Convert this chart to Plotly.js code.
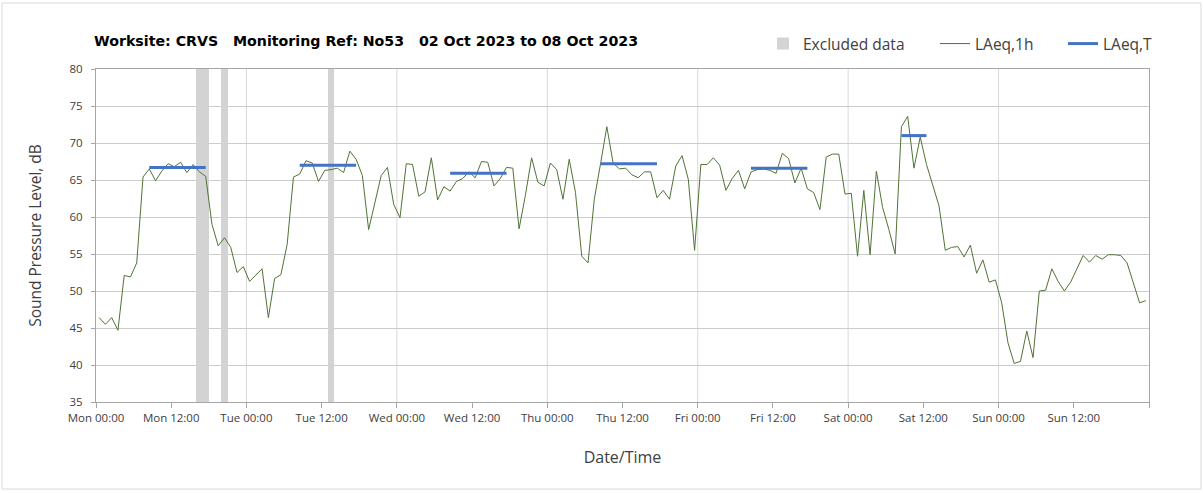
<!DOCTYPE html>
<html>
<head>
<meta charset="utf-8">
<script src="https://cdn.plot.ly/plotly-3.0.1.min.js"></script>
<style>
  html, body { margin: 0; padding: 0; background: #ffffff; }
  #chart { width: 1203px; height: 493px; }
</style>
</head>
<body>
<div id="chart"></div>
<script>
// ---- Data (hours since Mon 02 Oct 2023 00:00) ----
const laeq1h = [
  46.4, 45.5, 46.4, 44.7, 52.1, 51.9, 53.8, 65.4, 66.5, 64.9, 66.2, 67.2,
  66.8, 67.4, 66.0, 67.1, 66.1, 65.5, 59.0, 56.1, 57.2, 55.9, 52.5, 53.3,
  51.3, 52.1, 53.0, 46.4, 51.7, 52.2, 56.3, 65.4, 65.8, 67.6, 67.3, 64.8,
  66.3, 66.4, 66.6, 66.0, 68.9, 67.8, 65.6, 58.3, 61.8, 65.6, 66.7, 61.7,
  59.9, 67.2, 67.1, 62.8, 63.4, 68.0, 62.3, 64.1, 63.5, 64.8, 65.2, 66.1,
  65.3, 67.5, 67.4, 64.2, 65.2, 66.7, 66.6, 58.4, 62.9, 68.0, 64.7, 64.2,
  67.3, 66.4, 62.4, 67.8, 63.3, 54.7, 53.8, 62.4, 67.2, 72.2, 67.3, 66.5,
  66.6, 65.7, 65.3, 66.1, 66.1, 62.6, 63.6, 62.4, 66.9, 68.3, 65.1, 55.5,
  67.1, 67.1, 68.0, 67.0, 63.6, 65.2, 66.3, 63.8, 66.1, 66.4, 66.5, 66.3,
  65.9, 68.6, 67.9, 64.6, 66.6, 63.8, 63.3, 61.0, 68.1, 68.5, 68.5, 63.1,
  63.2, 54.7, 63.6, 54.9, 66.2, 61.3, 58.3, 55.0, 72.2, 73.6, 66.6, 70.8,
  67.1, 64.2, 61.5, 55.5, 55.9, 56.0, 54.6, 56.2, 52.4, 54.2, 51.2, 51.5,
  48.4, 43.0, 40.2, 40.5, 44.6, 41.0, 50.0, 50.1, 53.0, 51.3, 50.0, 51.2,
  53.1, 54.8, 53.9, 54.8, 54.3, 54.9, 54.9, 54.8, 53.8, 51.1, 48.4, 48.7
];

// LAeq,T periods (start hour, end hour, level dB)
const periodStart = [8, 32, 56, 80, 104, 128];
const periodEnd   = [18, 42, 66, 90, 114, 133];
const periodLevel = [66.7, 67.0, 65.9, 67.2, 66.6, 71.0];

// Excluded data hours
const excludedHours = [16, 17, 20, 37];

// Tick labels every 12 hours
const tickLabels = ['Mon 00:00', 'Mon 12:00', 'Tue 00:00', 'Tue 12:00', 'Wed 00:00', 'Wed 12:00',
  'Thu 00:00', 'Thu 12:00', 'Fri 00:00', 'Fri 12:00', 'Sat 00:00', 'Sat 12:00',
  'Sun 00:00', 'Sun 12:00', ''];
const dayBoundaries = [24, 48, 72, 96, 120, 144];

// ---- Build traces ----
const yMin = 35, yMax = 80;
const font = 'Open Sans, Lato, sans-serif';

const traceExcluded = {
  type: 'bar',
  name: 'Excluded data',
  legend: 'legend',
  x: excludedHours.map(h => h + 0.5),
  y: excludedHours.map(() => yMax),
  width: excludedHours.map(() => 1),
  marker: { color: '#d3d3d3', line: { width: 0 } },
  hoverinfo: 'skip'
};

const traceLaeq1h = {
  type: 'scatter',
  mode: 'lines',
  name: 'LAeq,1h',
  legend: 'legend2',
  x: laeq1h.map((v, i) => i + 0.5),
  y: laeq1h,
  line: { color: '#507336', width: 1 }
};

const tx = [], ty = [];
periodStart.forEach((s, k) => {
  tx.push(s + 0.5, periodEnd[k] - 0.5, null);
  ty.push(periodLevel[k], periodLevel[k], null);
});
const traceLaeqT = {
  type: 'scatter',
  mode: 'lines',
  name: 'LAeq,T',
  legend: 'legend3',
  x: tx,
  y: ty,
  line: { color: '#4472c4', width: 3 }
};

const W = 1203, H = 493;
const mL = 96, mR = 54, mT = 69, mB = 91;
const pw = W - mL - mR, ph = H - mT - mB;

const shapes = dayBoundaries.map(d => ({
  type: 'line', xref: 'x', yref: 'paper', x0: d, x1: d, y0: 0, y1: 1,
  line: { color: '#d9d9d9', width: 1 }, layer: 'below'
}));
// outer chart border
shapes.push({
  type: 'rect', xref: 'paper', yref: 'paper',
  x0: (2 - mL) / pw, x1: (1201 - mL) / pw,
  y0: (H - mB - 489) / ph, y1: (H - mB - 3) / ph,
  line: { color: '#d9d9d9', width: 1 }, fillcolor: 'rgba(0,0,0,0)', layer: 'below'
});

function legendAt(px) {
  return {
    orientation: 'h',
    x: (px - mL) / pw, xanchor: 'left',
    y: (H - mB - 44) / ph, yanchor: 'middle',
    font: { family: font, size: 15.5, color: '#404040' },
    bgcolor: 'rgba(0,0,0,0)',
    borderwidth: 0
  };
}

const layout = {
  width: W, height: H,
  margin: { l: mL, r: mR, t: mT, b: mB, pad: 0 },
  paper_bgcolor: '#ffffff',
  plot_bgcolor: '#ffffff',
  font: { family: font, color: '#404040' },
  bargap: 0,
  showlegend: true,
  title: {
    text: '<b>Worksite: CRVS\u00a0\u00a0 Monitoring Ref: No53\u00a0\u00a0 02 Oct 2023 to 08 Oct 2023</b>',
    xref: 'container', yref: 'container',
    x: 94 / W, xanchor: 'left',
    y: 1 - 41 / H, yanchor: 'middle',
    font: { family: 'DejaVu Sans, sans-serif', size: 14.2, color: '#000000' }
  },
  xaxis: {
    range: [0, 168],
    tickmode: 'array',
    tickvals: tickLabels.map((t, i) => i * 12),
    ticktext: tickLabels,
    ticks: 'outside', ticklen: 5, tickcolor: '#a6a6a6', tickwidth: 1,
    showgrid: false, zeroline: false,
    showline: true, linecolor: '#a6a6a6', linewidth: 1, mirror: true,
    tickfont: { family: font, size: 11.5, color: '#404040' },
    title: { text: 'Date/Time', standoff: 28, font: { family: font, size: 16, color: '#404040' } },
    fixedrange: true
  },
  yaxis: {
    range: [yMin, yMax],
    dtick: 5, tick0: 35,
    ticks: 'outside', ticklen: 4, tickcolor: '#a6a6a6', tickwidth: 1,
    showgrid: true, gridcolor: '#cccccc', gridwidth: 1,
    zeroline: false,
    showline: true, linecolor: '#a6a6a6', linewidth: 1, mirror: true,
    ticklabelstandoff: 6,
    tickfont: { family: font, size: 11.5, color: '#404040' },
    title: { text: 'Sound Pressure Level, dB', standoff: 24, font: { family: font, size: 15.5, color: '#404040' } },
    fixedrange: true
  },
  legend: legendAt(763),
  legend2: legendAt(935),
  legend3: legendAt(1063),
  shapes: shapes
};

Plotly.newPlot('chart', [traceExcluded, traceLaeq1h, traceLaeqT], layout, { displayModeBar: false, staticPlot: true });
</script>
</body>
</html>
